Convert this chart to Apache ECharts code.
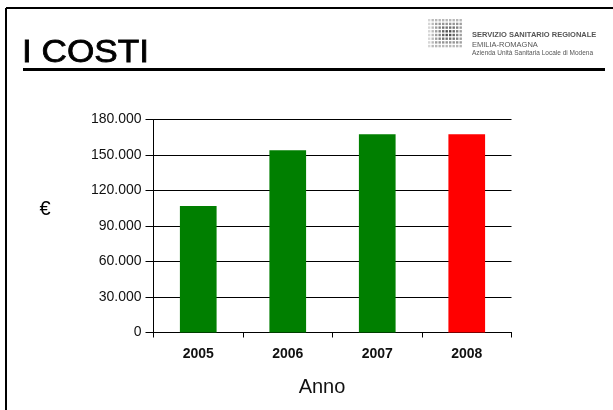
<!DOCTYPE html>
<html>
<head>
<meta charset="utf-8">
<script src="https://cdn.jsdelivr.net/npm/echarts@6/dist/echarts.min.js"></script>
<style>
html,body{margin:0;padding:0;background:#fff;}
#c{width:613px;height:410px;}
</style>
</head>
<body>
<div id="c"></div>
<script>
const categories = ['2005', '2006', '2007', '2008'];
const costs = [107000, 154000, 167500, 167500];
const barColors = ['#007F00', '#007F00', '#007F00', '#FF0000'];
const yTicks = [0, 30000, 60000, 90000, 120000, 150000, 180000];

function fmt(v) {
  return String(v).replace(/\B(?=(\d{3})+(?!\d))/g, '.');
}

const chart = echarts.init(document.getElementById('c'), null, {renderer: 'canvas'});

// decorative logo dot grid
const dots = [];
const cols = 10, rows = 8;
for (let r = 0; r < rows; r++) {
  for (let c = 0; c < cols; c++) {
    const dc = Math.abs(c - 5.5) / 5, dr = Math.abs(r - 3.5) / 4;
    const d = Math.max(dc, dr);
    const g = Math.round(60 + 140 * d);
    dots.push({
      type: 'rect',
      shape: {x: 428 + c * 3.5, y: 19 + r * 3.7, width: 2.4, height: 2.4},
      style: {fill: 'rgb(' + g + ',' + g + ',' + g + ')'},
      silent: true
    });
  }
}

const option = {
  backgroundColor: '#fff',
  animation: false,
  grid: {left: 153.5, right: 101.5, top: 119.5, bottom: 77.5, containLabel: false, outerBoundsMode: 'none'},
  xAxis: {
    type: 'category',
    data: categories,
    boundaryGap: true,
    axisLine: {show: true, lineStyle: {color: '#000', width: 1}},
    axisTick: {show: true, alignWithLabel: false, length: 5, lineStyle: {color: '#000'}},
    axisLabel: {color: '#111', fontFamily: 'Liberation Sans, Arial, sans-serif', fontSize: 14, fontWeight: 'bold', margin: 15},
    splitLine: {show: false}
  },
  yAxis: {
    type: 'value',
    min: 0,
    max: 180000,
    interval: 30000,
    axisLine: {show: true, lineStyle: {color: '#000', width: 1}},
    axisTick: {show: true, length: 8, lineStyle: {color: '#000'}},
    axisLabel: {color: '#111', fontFamily: 'Liberation Sans, Arial, sans-serif', fontSize: 14, margin: 12,
      formatter: function (v) { return yTicks.indexOf(v) >= 0 ? fmt(v) : ''; }},
    splitLine: {show: true, lineStyle: {color: '#000', width: 1}}
  },
  series: [{
    type: 'bar',
    barWidth: '41%',
    data: costs.map((v, i) => ({value: v, itemStyle: {color: barColors[i]}}))
  }],
  graphic: [
    {type: 'line', shape: {x1: 6, y1: 8, x2: 613, y2: 8}, style: {stroke: '#000', lineWidth: 2}, silent: true},
    {type: 'line', shape: {x1: 6, y1: 8, x2: 6, y2: 410}, style: {stroke: '#000', lineWidth: 2}, silent: true},
    {type: 'line', shape: {x1: 23, y1: 69.5, x2: 605, y2: 69.5}, style: {stroke: '#000', lineWidth: 3}, silent: true},
    {type: 'text', x: 22, y: 37, scaleX: 1.1, style: {text: 'I COSTI', font: '32px "Liberation Sans", Arial, sans-serif', fill: '#000', verticalAlign: 'top', stroke: '#000', lineWidth: 0.8}, silent: true},
    {type: 'text', x: 472, y: 35, style: {text: 'SERVIZIO SANITARIO REGIONALE', font: 'bold 7.5px "Liberation Sans", Arial, sans-serif', fill: '#555', verticalAlign: 'middle'}, silent: true},
    {type: 'text', x: 472, y: 44.5, style: {text: 'EMILIA-ROMAGNA', font: '7.5px "Liberation Sans", Arial, sans-serif', fill: '#555', verticalAlign: 'middle'}, silent: true},
    {type: 'text', x: 472, y: 53, style: {text: 'Azienda Unità Sanitaria Locale di Modena', font: '6.5px "Liberation Sans", Arial, sans-serif', fill: '#555', verticalAlign: 'middle'}, silent: true},
    {type: 'text', x: 45, y: 209, style: {text: '€', font: '20px "Liberation Sans", Arial, sans-serif', fill: '#000', align: 'center', verticalAlign: 'middle'}, silent: true},
    {type: 'text', x: 322, y: 387, style: {text: 'Anno', font: '20px "Liberation Sans", Arial, sans-serif', fill: '#111', align: 'center', verticalAlign: 'middle'}, silent: true}
  ].concat(dots)
};
chart.setOption(option);
</script>
</body>
</html>
